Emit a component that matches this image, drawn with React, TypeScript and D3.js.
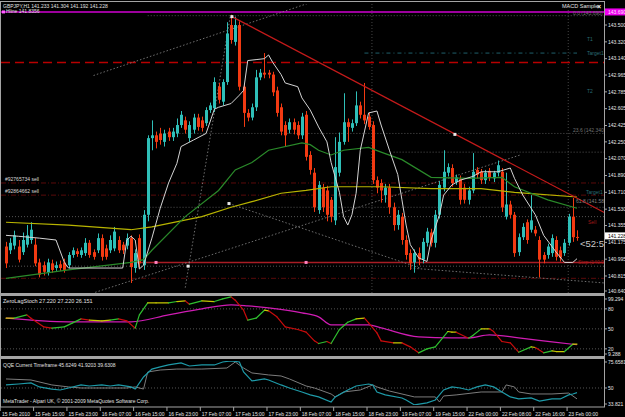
import * as d3 from "d3"
import React, { useEffect, useRef } from "react"

// window + panel layout (MetaTrader style)
const W = 625, H = 417
const axisX = 604
const mainTop = 4, mainBottom = 293
const stochTop = 296, stochBottom = 356
const qqeTop = 361, qqeBottom = 405
const font = "'Liberation Sans', Arial, sans-serif"

// time axis labels, one every 8 bars
const xLabels = ["15 Feb 2010", "15 Feb 15:00", "15 Feb 23:00", "16 Feb 07:00", "16 Feb 15:00", "16 Feb 23:00",
  "17 Feb 07:00", "17 Feb 15:00", "17 Feb 23:00", "18 Feb 07:00", "18 Feb 15:00", "18 Feb 23:00",
  "19 Feb 07:00", "19 Feb 15:00", "22 Feb 00:00", "22 Feb 08:00", "22 Feb 16:00", "23 Feb 00:00"]

const priceTicks = [143.500, 143.320, 143.140, 142.965, 142.785, 142.605, 142.425, 142.250, 142.070,
  141.890, 141.710, 141.530, 141.355, 141.175, 140.995, 140.815, 140.640]

// GBPJPY H1 candles
const opens = [141.13, 141.09, 141.14, 141.13, 141.07, 141.15, 141.20, 141.15, 140.96, 140.93, 140.85, 140.95, 140.90, 140.94, 140.96, 140.93, 141.04, 141.08, 141.04, 141.06,
  141.17, 141.07, 141.09, 141.22, 141.11, 141.09, 141.11, 141.20, 141.15, 141.14, 141.22, 140.90, 141.22, 140.93, 141.47, 142.29, 142.32, 142.34, 142.25, 142.36,
  142.30, 142.34, 142.43, 142.48, 142.29, 142.38, 142.51, 142.48, 142.45, 142.59, 142.61, 142.84, 142.68, 142.89, 143.50, 143.32, 143.50, 142.84, 142.56, 142.51,
  142.62, 142.94, 142.99, 142.99, 142.97, 142.80, 142.62, 142.43, 142.38, 142.46, 142.43, 142.32, 142.54, 142.11, 141.92, 141.52, 141.76, 141.73, 141.63, 141.41,
  141.92, 142.25, 142.46, 142.40, 142.45, 142.64, 142.54, 142.52, 142.43, 141.84, 141.81, 141.68, 141.76, 141.55, 141.36, 141.45, 141.20, 141.06, 140.96, 141.06,
  140.99, 141.17, 141.28, 141.17, 141.47, 141.76, 141.92, 141.97, 141.82, 141.85, 141.76, 141.63, 141.73, 141.95, 141.93, 141.84, 141.94, 141.86, 141.92, 141.93,
  141.45, 141.58, 141.47, 141.07, 141.23, 141.39, 141.31, 141.31, 141.20, 141.04, 141.04, 141.06, 141.20, 141.09, 141.06, 141.17, 141.45, 141.233]
const highs = [141.18, 141.22, 141.30, 141.20, 141.28, 141.36, 141.39, 141.22, 141.00, 140.97, 141.00, 140.99, 140.97, 140.98, 141.00, 141.07, 141.12, 141.11, 141.12, 141.22,
  141.20, 141.10, 141.27, 141.26, 141.15, 141.25, 141.34, 141.24, 141.18, 141.27, 141.25, 141.10, 141.26, 141.52, 142.32, 142.48, 142.36, 142.40, 142.38, 142.40,
  142.40, 142.50, 142.58, 142.52, 142.47, 142.55, 142.55, 142.52, 142.62, 142.67, 142.94, 142.88, 142.92, 143.53, 143.61, 143.59, 143.54, 142.88, 142.60, 142.66,
  143.02, 143.03, 143.20, 143.02, 143.00, 142.84, 142.66, 142.47, 142.50, 142.50, 142.47, 142.56, 142.58, 142.15, 141.97, 141.83, 141.80, 141.78, 141.66, 142.30,
  142.35, 142.77, 142.50, 142.49, 142.79, 142.68, 142.88, 142.56, 142.47, 141.88, 141.85, 141.80, 141.80, 141.60, 141.52, 141.49, 141.25, 141.10, 141.10, 141.12,
  141.22, 141.33, 141.32, 141.52, 141.83, 142.16, 142.02, 142.01, 141.90, 141.89, 141.80, 141.77, 142.13, 141.98, 141.96, 141.95, 141.97, 141.94, 142.05, 141.97,
  141.92, 141.62, 141.50, 141.27, 141.38, 141.42, 141.68, 141.35, 141.24, 141.07, 141.16, 141.26, 141.24, 141.13, 141.21, 141.48, 141.65, 141.304]
const lows = [140.90, 141.05, 141.10, 140.96, 141.04, 141.12, 141.16, 140.92, 140.80, 140.82, 140.82, 140.85, 140.87, 140.87, 140.85, 140.90, 141.01, 141.02, 141.01, 141.03,
  141.01, 140.99, 141.06, 140.98, 140.99, 141.06, 141.08, 141.06, 141.05, 141.10, 140.74, 140.85, 140.90, 140.88, 141.40, 142.16, 142.18, 142.22, 142.20, 142.26,
  142.26, 142.30, 142.40, 142.34, 142.25, 142.34, 142.37, 142.36, 142.42, 142.56, 142.57, 142.66, 142.64, 142.86, 143.30, 143.28, 142.80, 142.41, 142.47, 142.48,
  142.58, 142.91, 142.93, 142.93, 142.74, 142.52, 142.32, 142.20, 142.34, 142.33, 142.28, 142.28, 142.05, 141.90, 141.50, 141.48, 141.50, 141.40, 141.39, 141.36,
  141.88, 142.22, 142.25, 142.36, 142.42, 142.50, 142.44, 142.38, 141.80, 141.70, 141.60, 141.60, 141.48, 141.30, 141.31, 141.15, 140.99, 140.88, 140.85, 140.93,
  140.95, 141.13, 141.13, 141.12, 141.43, 141.72, 141.88, 141.77, 141.79, 141.58, 141.59, 141.58, 141.70, 141.86, 141.80, 141.80, 141.83, 141.82, 141.88, 141.50,
  141.42, 141.43, 141.02, 141.03, 141.20, 141.16, 141.28, 141.24, 140.80, 140.95, 141.00, 141.02, 140.98, 140.97, 141.03, 141.14, 141.18, 141.192]
const closes = [140.95, 141.17, 141.25, 140.99, 141.20, 141.25, 141.31, 140.95, 140.83, 140.86, 140.96, 140.88, 140.93, 140.90, 140.88, 141.04, 141.09, 141.05, 141.09, 141.17,
  141.04, 141.02, 141.22, 141.02, 141.02, 141.20, 141.29, 141.09, 141.09, 141.22, 140.91, 141.06, 140.95, 141.47, 142.29, 142.32, 142.25, 142.27, 142.34, 142.30,
  142.36, 142.43, 142.54, 142.38, 142.43, 142.51, 142.41, 142.40, 142.59, 142.64, 142.89, 142.70, 142.89, 143.41, 143.34, 143.50, 142.84, 142.56, 142.51, 142.62,
  142.94, 142.99, 142.97, 142.97, 142.78, 142.56, 142.36, 142.32, 142.46, 142.38, 142.32, 142.52, 142.09, 141.95, 141.55, 141.79, 141.55, 141.47, 141.45, 141.98,
  142.25, 142.46, 142.41, 142.45, 142.64, 142.54, 142.48, 142.41, 141.84, 141.76, 141.73, 141.76, 141.55, 141.36, 141.47, 141.20, 141.04, 140.95, 141.06, 140.99,
  141.18, 141.29, 141.17, 141.47, 141.79, 141.93, 141.98, 141.81, 141.87, 141.63, 141.63, 141.73, 141.93, 141.90, 141.84, 141.92, 141.87, 141.92, 142.00, 141.55,
  141.58, 141.47, 141.06, 141.23, 141.34, 141.20, 141.41, 141.27, 140.99, 140.99, 141.13, 141.22, 141.02, 141.01, 141.17, 141.45, 141.23, 141.228]

// chart indicators on price window (bar index, price)
const whiteIdx = [0, 3, 8, 12, 14, 15, 28, 29, 30, 31, 32, 33, 35, 37, 39, 41, 42, 45, 48, 50, 51, 54, 56, 57, 58, 60, 62, 63, 64, 66, 67, 70, 71, 73, 75,
  77, 78, 80, 81, 82, 83, 84, 85, 87, 89, 90, 92, 94, 95, 96, 97, 99, 101, 102, 104, 105, 107, 109, 112, 114, 118, 121, 122, 124, 127, 129, 132, 134, 136, 137]
const whiteVal = [141.25, 141.24, 141.22, 141.20, 140.96, 140.90, 140.90, 141.20, 141.24, 141.20, 140.89, 140.93, 141.22, 141.54, 141.81, 142.02, 142.20, 142.27,
  142.34, 142.60, 142.62, 142.66, 142.75, 142.80, 143.12, 143.13, 143.14, 143.18, 143.10, 142.97, 142.88, 142.84, 142.72, 142.59, 142.41, 142.25, 142.03, 141.71,
  141.45, 141.36, 141.47, 141.70, 142.16, 142.56, 142.58, 142.43, 142.16, 141.90, 141.63, 141.36, 141.15, 141.01, 140.97, 141.20, 141.47, 141.68, 141.79, 141.84,
  141.88, 141.93, 141.93, 141.97, 141.86, 141.68, 141.47, 141.25, 141.07, 140.96, 140.96, 141.00]
const greenIdx = [0, 15, 30, 33, 35, 43, 51, 55, 59, 63, 71, 73, 75, 78, 81, 87, 90, 95, 102, 111, 119, 122, 130, 137]
const greenVal = [140.79, 140.88, 140.96, 140.99, 141.09, 141.45, 141.73, 141.95, 142.03, 142.16, 142.24, 142.22, 142.16, 142.11, 142.16, 142.19, 142.14,
  142.06, 141.87, 141.86, 141.87, 141.77, 141.63, 141.54]
const yellowIdx = [0, 15, 30, 35, 47, 54, 59, 66, 72, 78, 90, 102, 114, 122, 137]
const yellowVal = [141.39, 141.36, 141.31, 141.34, 141.45, 141.55, 141.61, 141.70, 141.73, 141.77, 141.77, 141.75, 141.75, 141.71, 141.66]

// horizontal objects
const magentaLevel = 143.64
const dashedRedLevel = 143.10
const orderLevels = [141.81, 141.68, 140.79]
const stopLevel = 140.96
const stopFrom = 31
const targetLevel = 143.20
const targetFrom = 86
const dottedLevels = [143.60, 142.34, 142.14, 141.55, 141.45, 140.92]
const dottedFrom = [34, 38, 93, 33, 0, 0]
const vDotted = [87.8, 134.9]

// trend lines [bar0, price0, bar1, price1]
const redTrend = [54.2, 143.59, 143.7, 141.49]
const dottedTrends = [
  [21, 142.96, 73, 143.74],
  [21.4, 140.64, 123.4, 142.11],
  [53.5, 141.59, 99.3, 140.90],
  [97, 140.90, 143.7, 140.74],
  [43, 140.69, 53.8, 143.59],
]
const whiteDots = [[53.5, 141.59], [107.7, 142.33], [54.2, 143.59], [43.7, 140.92]]
const pinkDots = [[36, 140.96], [72, 140.96]]

// ZeroLagStoch
const stochIdx = [0, 2, 5, 6, 9, 11, 14, 16, 18, 20, 23, 25, 27, 29, 31, 32, 34, 36, 39, 41, 43, 44, 47, 50, 52, 54, 55, 57, 58, 60, 62, 63, 65, 67, 70, 72,
  74, 75, 77, 78, 80, 82, 84, 86, 87, 89, 90, 93, 95, 97, 99, 101, 103, 106, 107, 108, 111, 112, 114, 116, 117, 119, 121, 123, 126, 127, 129, 131, 132, 134, 136, 137]
const stochMain = [66, 66, 71, 66, 53, 51, 53, 59, 65, 63, 62, 63, 65, 62, 51, 71, 89, 89, 89, 91, 92, 87, 92, 91, 95, 98, 93, 78, 63, 66, 78, 77, 68, 53, 49, 45,
  32, 28, 31, 28, 49, 60, 65, 66, 59, 44, 32, 29, 29, 23, 14, 20, 23, 46, 45, 45, 36, 40, 50, 50, 46, 31, 29, 15, 23, 22, 14, 17, 16, 16, 27, 27.22]
const sigIdx = [0, 15, 23, 30, 39, 47, 54, 58, 63, 71, 75, 78, 87, 90, 99, 107, 111, 116, 123, 131, 137]
const sigVal = [66, 60.5, 60.5, 60.5, 71, 80, 86, 84.5, 81.5, 74, 68, 56, 56, 51.5, 38, 36.5, 36.5, 41, 36.5, 30.5, 26.15]
const stochLevels = [80, 50, 20]

// QQE
const qqeIdx = [0, 3, 6, 8, 11, 13, 15, 18, 20, 23, 25, 27, 30, 31, 33, 35, 37, 39, 42, 44, 47, 50, 52, 54, 56, 57, 59, 62, 63, 66, 68, 71, 73, 75, 78, 79,
  82, 84, 87, 88, 89, 91, 95, 96, 98, 101, 103, 105, 107, 109, 111, 113, 115, 117, 119, 121, 123, 126, 128, 131, 133, 135, 136, 137]
const qqeFast = [52.9, 53.8, 54.8, 51, 49, 48.1, 50, 52.9, 51.9, 52.9, 51.9, 52.9, 51, 49, 60.5, 68, 70, 71.9, 73.8, 70.9, 71.9, 71.9, 74.7, 75.7, 74.7, 65.2,
  56.7, 58.6, 57.6, 52.9, 50, 46.2, 43.4, 41.5, 36.7, 41.5, 48.1, 51.9, 53.8, 52.9, 46.2, 43.4, 40.5, 38.6, 33.9, 35.8, 38.6, 48.1, 51, 50, 48.1, 51, 52.9, 51,
  46.2, 41.5, 39.6, 40.5, 37.6, 39.6, 39.6, 43.4, 44.3, 45.6]
const qqeSlowIdx = [0, 6, 11, 15, 18, 29, 31, 33, 34, 37, 41, 47, 53, 55, 57, 59, 63, 66, 68, 72, 74, 78, 79, 81, 85, 88, 89, 92, 98, 103, 104, 105, 108, 114,
  119, 120, 122, 123, 126, 131, 135, 137]
const qqeSlow = [58.6, 57.6, 52.9, 51, 50, 50, 51, 49, 65.2, 67.1, 68, 68, 69, 74.7, 69, 64.3, 62.4, 61.4, 58.6, 51.9, 50, 44.3, 41.5, 46.2, 48.1, 52.9, 51,
  47.1, 41.5, 41.5, 36.7, 42.4, 43.4, 46.2, 46.2, 52.9, 51, 46.2, 44.3, 44.3, 45.2, 39.63]
const qqeLevels = [50]

export default function App() {
  const ref = useRef<SVGSVGElement>(null)

  useEffect(() => {
    const svg = d3.select(ref.current)
    svg.selectAll("*").remove()
    svg.append("rect").attr("width", W).attr("height", H).attr("fill", "#000")

    const x = d3.scaleLinear().domain([0, opens.length - 1]).range([6, 577])
    const step = x(1) - x(0)
    const yP = d3.scaleLinear().domain([140.633, 143.725]).range([mainBottom, mainTop])
    const yS = d3.scaleLinear().domain([9.288, 99.294]).range([stochBottom, stochTop])
    const yQ = d3.scaleLinear().domain([33.821, 75.6581]).range([qqeBottom, qqeTop])

    const defs = svg.append("defs")
    const clip = (id: string, y0: number, y1: number) =>
      defs.append("clipPath").attr("id", id).append("rect")
        .attr("x", 1).attr("y", y0).attr("width", axisX - 1).attr("height", y1 - y0)
    clip("cMain", mainTop, mainBottom)
    clip("cStoch", stochTop, stochBottom)
    clip("cQqe", qqeTop, qqeBottom)

    const root = svg.append("g").style("font-family", font)
    const main = root.append("g").attr("clip-path", "url(#cMain)")

    //horizontal dotted objects
    dottedLevels.forEach((p, k) => {
      main.append("line").attr("x1", x(dottedFrom[k])).attr("x2", axisX)
        .attr("y1", yP(p)).attr("y2", yP(p))
        .attr("stroke", "#6a6a6a").attr("stroke-width", 0.8).attr("stroke-dasharray", "1,2")
    })
    vDotted.forEach(i => {
      main.append("line").attr("x1", x(i)).attr("x2", x(i)).attr("y1", mainTop).attr("y2", mainBottom)
        .attr("stroke", "#555").attr("stroke-width", 0.8).attr("stroke-dasharray", "1,2")
    })
    orderLevels.forEach(p => {
      main.append("line").attr("x1", 1).attr("x2", axisX).attr("y1", yP(p)).attr("y2", yP(p))
        .attr("stroke", "#5a0a0a").attr("stroke-width", 1).attr("stroke-dasharray", "5,2,1,2")
    })
    main.append("line").attr("x1", x(targetFrom)).attr("x2", x(opens.length - 1))
      .attr("y1", yP(targetLevel)).attr("y2", yP(targetLevel))
      .attr("stroke", "#1f5f6a").attr("stroke-width", 1).attr("stroke-dasharray", "4,3,1,3")
    main.append("line").attr("x1", 1).attr("x2", axisX).attr("y1", yP(dashedRedLevel)).attr("y2", yP(dashedRedLevel))
      .attr("stroke", "#b80000").attr("stroke-width", 1.5).attr("stroke-dasharray", "9,5")
    main.append("line").attr("x1", 1).attr("x2", axisX).attr("y1", yP(magentaLevel)).attr("y2", yP(magentaLevel))
      .attr("stroke", "#d000d0").attr("stroke-width", 1.5)
    main.append("line").attr("x1", x(stopFrom)).attr("x2", axisX).attr("y1", yP(stopLevel)).attr("y2", yP(stopLevel))
      .attr("stroke", "#a81c24").attr("stroke-width", 1.5)

    //dotted trend lines
    dottedTrends.forEach(t => {
      main.append("line").attr("x1", x(t[0])).attr("y1", yP(t[1])).attr("x2", x(t[2])).attr("y2", yP(t[3]))
        .attr("stroke", "#8a8a8a").attr("stroke-width", 0.8).attr("stroke-dasharray", "1.5,2")
    })

    //candles
    const bars = opens.map((o, i) => ({ i, o, h: highs[i], l: lows[i], c: closes[i] }))
    const col = (d: any) => d.c >= d.o ? "#2fbfb8" : "#f23a12"
    main.append("g").selectAll("line").data(bars).join("line")
      .attr("x1", d => Math.round(x(d.i)) + 0.5).attr("x2", d => Math.round(x(d.i)) + 0.5)
      .attr("y1", d => yP(d.h)).attr("y2", d => yP(d.l))
      .attr("stroke", col).attr("stroke-width", 1)
    main.append("g").selectAll("rect").data(bars).join("rect")
      .attr("x", d => Math.round(x(d.i)) - 1).attr("width", 3)
      .attr("y", d => yP(Math.max(d.o, d.c)))
      .attr("height", d => Math.max(1, Math.abs(yP(d.o) - yP(d.c))))
      .attr("fill", col)

    //moving lines
    const pline = (idx: number[], vals: number[], ys: any) =>
      d3.line<number>().x((_, k) => x(idx[k])).y(v => ys(v))(vals)
    main.append("path").attr("d", pline(yellowIdx, yellowVal, yP)).attr("fill", "none").attr("stroke", "#b8b400").attr("stroke-width", 1.2)
    main.append("path").attr("d", pline(greenIdx, greenVal, yP)).attr("fill", "none").attr("stroke", "#2a8a2a").attr("stroke-width", 1.2)
    main.append("path").attr("d", pline(whiteIdx, whiteVal, yP)).attr("fill", "none").attr("stroke", "#d4d4d4").attr("stroke-width", 1)

    main.append("line").attr("x1", x(redTrend[0])).attr("y1", yP(redTrend[1])).attr("x2", x(redTrend[2])).attr("y2", yP(redTrend[3]))
      .attr("stroke", "#c41a1a").attr("stroke-width", 1.2)

    whiteDots.forEach(d => {
      main.append("rect").attr("x", x(d[0]) - 1.5).attr("y", yP(d[1]) - 1.5).attr("width", 3).attr("height", 3).attr("fill", "#e8e8e8")
    })
    pinkDots.forEach(d => {
      main.append("rect").attr("x", x(d[0]) - 1.5).attr("y", yP(d[1]) - 1.5).attr("width", 3).attr("height", 3).attr("fill", "#ff80c0")
    })
    main.append("rect").attr("x", 2).attr("y", yP(magentaLevel) - 1.5).attr("width", 3).attr("height", 3).attr("fill", "#ff60ff")

    //chart texts
    const txt = (g: any, s: string, tx: number, ty: number, fill: string, size = 5) =>
      g.append("text").attr("x", tx).attr("y", ty).attr("fill", fill).style("font-size", size + "px").text(s)
    txt(main, "GBPJPY,H1  141.233 141.304 141.192 141.228", 3, 8, "#e0e0e0")
    txt(main, "Hline 141.8356", 6, yP(magentaLevel) + 1.5, "#e0e0e0")
    txt(main, "MACD Sample", 562, 8, "#e0e0e0", 5.5)
    txt(main, "×", 597, 8.5, "#ffffff", 7).style("font-weight", "bold")
    txt(main, "#92765734 sell", 5, yP(orderLevels[0]) - 2, "#d8d8d8")
    txt(main, "#92864662 sell", 5, yP(orderLevels[1]) - 2, "#d8d8d8")
    txt(main, "0.0 (143.690)", 573, yP(dottedLevels[0]) - 1, "#707070")
    txt(main, "T1", 587, yP(143.33), "#2a6b74")
    txt(main, "Target1", 587, yP(targetLevel) + 2, "#2a6b74")
    txt(main, "T2", 587, yP(142.77), "#2a6b74")
    txt(main, "23.6 (142.340)", 573, yP(dottedLevels[1]) - 1, "#707070")
    txt(main, "Target1", 586, yP(141.69), "#2a6b74")
    txt(main, "61.8 (141.583)", 576, yP(141.60), "#808080")
    txt(main, "Sell", 588, yP(141.37), "#a01818")
    txt(main, "Stop (140.961)", 578, yP(stopLevel) + 1.5, "#a01818")
    // bar countdown, cut by the price scale as in the terminal
    txt(main, "<52:5", 580, yP(141.13), "#c8c8c8", 9.5)

    //ZeroLagStoch window
    const st = root.append("g").attr("clip-path", "url(#cStoch)")
    stochLevels.forEach(v => {
      st.append("line").attr("x1", 1).attr("x2", axisX).attr("y1", yS(v)).attr("y2", yS(v))
        .attr("stroke", "#6a6a6a").attr("stroke-width", 0.8).attr("stroke-dasharray", "1,2")
    })
    st.append("path").attr("d", d3.line<number>().x((_, k) => x(sigIdx[k])).y(v => yS(v)).curve(d3.curveMonotoneX)(sigVal))
      .attr("fill", "none").attr("stroke", "#d01cb4").attr("stroke-width", 1.2)
    for (let k = 1; k < stochMain.length; k++) {
      const dv = stochMain[k] - stochMain[k - 1]
      st.append("line")
        .attr("x1", x(stochIdx[k - 1])).attr("y1", yS(stochMain[k - 1]))
        .attr("x2", x(stochIdx[k])).attr("y2", yS(stochMain[k]))
        .attr("stroke", dv > 1.5 ? "#2fbf2f" : dv < -1.5 ? "#c80c0c" : "#c8c800")
        .attr("stroke-width", 1.2).attr("stroke-linecap", "round")
    }
    txt(st, "ZeroLagStoch 27.220 27.220 26.151", 3, stochTop + 7, "#e0e0e0", 5.5)

    //QQE window
    const qq = root.append("g").attr("clip-path", "url(#cQqe)")
    qqeLevels.forEach(v => {
      qq.append("line").attr("x1", 1).attr("x2", axisX).attr("y1", yQ(v)).attr("y2", yQ(v))
        .attr("stroke", "#6a6a6a").attr("stroke-width", 0.8).attr("stroke-dasharray", "1,2")
    })
    qq.append("path").attr("d", d3.line<number>().x((_, k) => x(qqeSlowIdx[k])).y(v => yQ(v))(qqeSlow))
      .attr("fill", "none").attr("stroke", "#7c7c7c").attr("stroke-width", 1)
    qq.append("path").attr("d", d3.line<number>().x((_, k) => x(qqeIdx[k])).y(v => yQ(v))(qqeFast))
      .attr("fill", "none").attr("stroke", "#1e9aa8").attr("stroke-width", 1.2)
    txt(qq, "QQE Current Timeframe 45.6249 41.9203 39.6308", 3, qqeTop + 6, "#e0e0e0")
    txt(qq, "MetaTrader - Alpari UK, © 2001-2009 MetaQuotes Software Corp.", 3, qqeBottom - 2, "#e0e0e0")

    //frame and separators
    const gray = "#a4a4a4"
    root.append("line").attr("x1", 0).attr("x2", axisX).attr("y1", 1.5).attr("y2", 1.5).attr("stroke", gray)
    root.append("line").attr("x1", 0.5).attr("x2", 0.5).attr("y1", 1).attr("y2", 407).attr("stroke", gray)
    root.append("rect").attr("x", 0).attr("y", mainBottom).attr("width", axisX).attr("height", 3).attr("fill", gray)
    root.append("rect").attr("x", 0).attr("y", stochBottom).attr("width", axisX).attr("height", 3).attr("fill", gray)
    root.append("line").attr("x1", 0).attr("x2", axisX + 1).attr("y1", 407).attr("y2", 407).attr("stroke", gray)
    root.append("line").attr("x1", axisX + 0.5).attr("x2", axisX + 0.5).attr("y1", 1).attr("y2", 407).attr("stroke", gray)

    //price axis
    const lastClose = closes[closes.length - 1]
    const boxY = yP(lastClose) - 1.5
    const axisG = root.append("g")
    const axisLabel = (v: string, yy: number) => {
      axisG.append("line").attr("x1", axisX).attr("x2", axisX + 3).attr("y1", yy).attr("y2", yy).attr("stroke", gray)
      axisG.append("text").attr("x", axisX + 4).attr("y", yy).attr("dy", "0.35em")
        .attr("fill", "#e6e6e6").style("font-size", "5px").text(v)
    }
    priceTicks.forEach(p => {
      let yy = Math.min(yP(p), mainBottom - 2)
      // keep the tick label clear of the current price box
      if (Math.abs(yy - boxY) < 6.5) yy = yy > boxY ? boxY + 6.5 : boxY - 6.5
      axisLabel(d3.format(".3f")(p), yy)
    })
    axisLabel("99.294", stochTop + 3)
    stochLevels.forEach(v => axisLabel(String(v), yS(v)))
    axisLabel("9.288", stochBottom - 2)
    axisLabel("75.6581", qqeTop + 1)
    qqeLevels.forEach(v => axisLabel(String(v), yQ(v)))
    axisLabel("33.821", qqeBottom - 1)

    //axis boxes for magenta line and current price
    const box = (val: string, yy: number, bg: string, fg: string) => {
      axisG.append("rect").attr("x", axisX + 1).attr("y", yy - 3.5).attr("width", W - axisX - 1).attr("height", 7).attr("fill", bg)
      axisG.append("text").attr("x", axisX + 4).attr("y", yy).attr("dy", "0.35em")
        .attr("fill", fg).style("font-size", "5px").text(val)
    }
    box("143.690", yP(magentaLevel), "#f000f0", "#ffe0ff")
    box("141.228", boxY, "#ffffff", "#000000")

    //time axis
    const tg = root.append("g")
    xLabels.forEach((s, k) => {
      const tx = x(k * 8) - 1.5 * step
      tg.append("line").attr("x1", tx + 0.5).attr("x2", tx + 0.5).attr("y1", 407).attr("y2", 411).attr("stroke", gray)
      tg.append("text").attr("x", Math.max(2, tx + 2)).attr("y", 414).attr("dy", "0.35em")
        .attr("fill", "#e6e6e6").style("font-size", "5px").text(s)
    })
  }, [])

  return (
    <svg
      ref={ref}
      width={W}
      height={H}
      style={{ position: "absolute", left: 0, top: 0, display: "block", background: "#000" }}
    />
  )
}
